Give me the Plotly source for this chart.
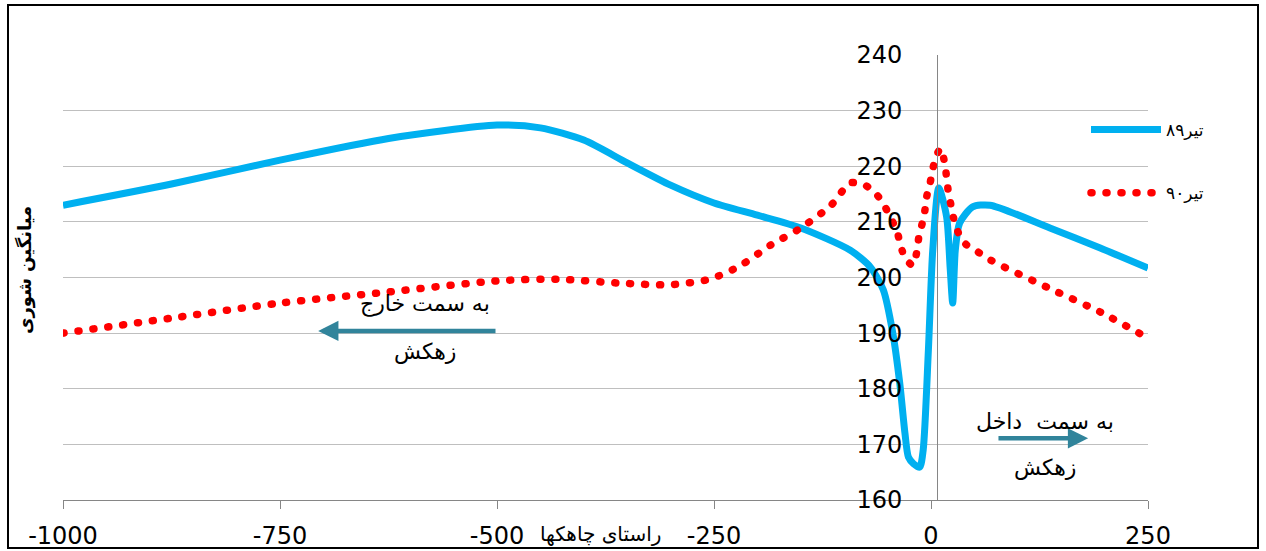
import plotly.graph_objects as go

# ---------------- data ----------------
x_89 = [-1000, -875, -750, -625, -500, -450, -400, -350, -300, -250, -200, -150,
        -93, -70, -55, -44, -36, -30, -26, -20, -13, -9, -3, 2, 9, 18, 22, 25,
        28, 33, 48, 68, 137, 195, 250]
y_89 = [213.0, 216.8, 221.1, 225.0, 227.4, 226.9, 224.7, 220.6, 216.6, 213.4,
        211.2, 208.9, 204.9, 201.9, 197.8, 190.0, 181.0, 172.0, 167.7, 166.5,
        165.9, 169.0, 187.0, 204.9, 216.1, 210.9, 201.9, 195.4, 204.9, 209.8,
        212.7, 213.0, 208.9, 205.3, 201.7]

x_90 = [-1000, -875, -750, -625, -500, -430, -360, -300, -255, -220, -185, -150,
        -115, -93, -76, -62, -53, -45, -39, -35, -30, -21, -16, -14, -10, -7, -5,
        -1, 2, 6, 11, 16, 18, 20, 23, 26, 31, 40, 54, 69, 137, 195, 250]
y_90 = [190.0, 192.7, 195.4, 197.4, 199.4, 199.7, 199.0, 198.7, 199.7, 202.1,
        205.8, 208.9, 213.0, 217.0, 216.6, 214.8, 212.7, 210.3, 208.2, 205.8,
        203.5, 202.2, 204.9, 207.3, 209.8, 212.1, 214.5, 217.0, 219.5, 221.8,
        223.2, 220.4, 217.9, 215.4, 213.0, 210.7, 208.2, 206.0, 204.6, 203.1,
        198.0, 193.8, 189.1]

series_names = ["تیر۸۹", "تیر۹۰"]
x_ticks = [-1000, -750, -500, -250, 0, 250]
x_tick_labels = ["-1000", "-750", "-500", "-250", "0", "250"]
y_ticks = [160, 170, 180, 190, 200, 210, 220, 230, 240]
x_title = "راستای چاهکها"
y_title = "میانگین شوری"
note_out = ["به سمت خارج", "زهکش"]
note_in = ["به سمت  داخل", "زهکش"]

# ---------------- layout geometry ----------------
W, H = 1266, 551
L, R, T, B = 63, 118, 55, 51
PW, PH = W - L - R, H - T - B


def px_x(p):
    return (p - L) / PW


def px_y(p):
    return (H - B - p) / PH


BLUE = "#00B0F0"
RED = "#FF0000"
TEAL = "#31849B"
FONT = "DejaVu Sans"

fig = go.Figure()
fig.add_trace(go.Scatter(
    x=x_89, y=y_89, mode="lines", name=series_names[0], legendgroup="a",
    line=dict(color=BLUE, width=7, shape="spline", smoothing=0.7),
))
fig.add_trace(go.Scatter(
    x=x_90, y=y_90, mode="lines", name=series_names[1], legendgroup="b",
    line=dict(color=RED, width=7.5, shape="spline", smoothing=0.7, dash="1px,14px"),
))

annotations = [
    dict(x=px_x(600), y=px_y(534), xref="paper", yref="paper", text=x_title,
         showarrow=False, font=dict(family=FONT, size=20, color="black"),
         xanchor="center", yanchor="middle"),
    dict(x=px_x(25), y=px_y(270), xref="paper", yref="paper", text="<b>" + y_title + "</b>",
         showarrow=False, textangle=-90, font=dict(family=FONT, size=18, color="black"),
         xanchor="center", yanchor="middle"),
    # outward arrow
    dict(x=-706, y=190.4, ax=-500, ay=190.4, xref="x", yref="y", axref="x", ayref="y",
         text="", showarrow=True, arrowhead=2, arrowsize=0.9, arrowwidth=4.5,
         arrowcolor=TEAL),
    dict(x=-583, y=195.3, xref="x", yref="y", text=note_out[0], showarrow=False,
         font=dict(family=FONT, size=22, color="black")),
    dict(x=-583, y=186.6, xref="x", yref="y", text=note_out[1], showarrow=False,
         font=dict(family=FONT, size=22, color="black")),
    # inward arrow
    dict(x=181, y=171.1, ax=76, ay=171.1, xref="x", yref="y", axref="x", ayref="y",
         text="", showarrow=True, arrowhead=2, arrowsize=0.9, arrowwidth=4.5,
         arrowcolor=TEAL),
    dict(x=131, y=174.2, xref="x", yref="y", text=note_in[0], showarrow=False,
         font=dict(family=FONT, size=22, color="black")),
    dict(x=131, y=165.7, xref="x", yref="y", text=note_in[1], showarrow=False,
         font=dict(family=FONT, size=22, color="black")),
]

shapes = [
    dict(type="rect", xref="paper", yref="paper",
         x0=px_x(8), x1=px_x(1258), y0=px_y(548), y1=px_y(5),
         line=dict(color="black", width=2), fillcolor="rgba(0,0,0,0)", layer="below"),
]

fig.update_layout(
    width=W, height=H,
    margin=dict(l=L, r=R, t=T, b=B, pad=0, autoexpand=False),
    paper_bgcolor="white", plot_bgcolor="white",
    font=dict(family=FONT, color="black"),
    showlegend=True,
    legend=dict(x=px_x(1086), y=px_y(112), xanchor="left", yanchor="top",
                bgcolor="rgba(0,0,0,0)", borderwidth=0, itemwidth=70,
                font=dict(family=FONT, size=17, color="black"),
                tracegroupgap=38, traceorder="grouped"),
    xaxis=dict(range=[-1000, 250], tickvals=x_ticks, ticktext=x_tick_labels,
               showgrid=False, zeroline=False, showline=True, linecolor="#868686",
               linewidth=1, ticks="outside", ticklen=8, tickcolor="#868686",
               ticklabelstandoff=6, automargin=False,
               tickfont=dict(family=FONT, size=24, color="black")),
    yaxis=dict(range=[160, 240], tickvals=y_ticks, showgrid=True,
               gridcolor="#BFBFBF", gridwidth=1, zeroline=False,
               showline=True, linecolor="#868686", linewidth=1,
               anchor="free", position=px_x(937), ticks="",
               ticklabelstandoff=30, automargin=False,
               tickfont=dict(family=FONT, size=24, color="black")),
    annotations=annotations,
    shapes=shapes,
)

post = """
(function(){
  document.body.style.margin = '0';
  document.body.style.padding = '0';
  function fix(){
    document.querySelectorAll('path').forEach(function(p){
      var s = p.style.stroke || '';
      if (s.replace(/\\s/g,'') === 'rgb(255,0,0)') { p.style.strokeLinecap = 'round'; }
    });
  }
  fix();
  var gd = document.getElementsByClassName('plotly-graph-div')[0];
  if (gd && gd.on) { gd.on('plotly_afterplot', fix); }
})();
"""

fig.write_html("out.html", post_script=post, config={"displayModeBar": False})
